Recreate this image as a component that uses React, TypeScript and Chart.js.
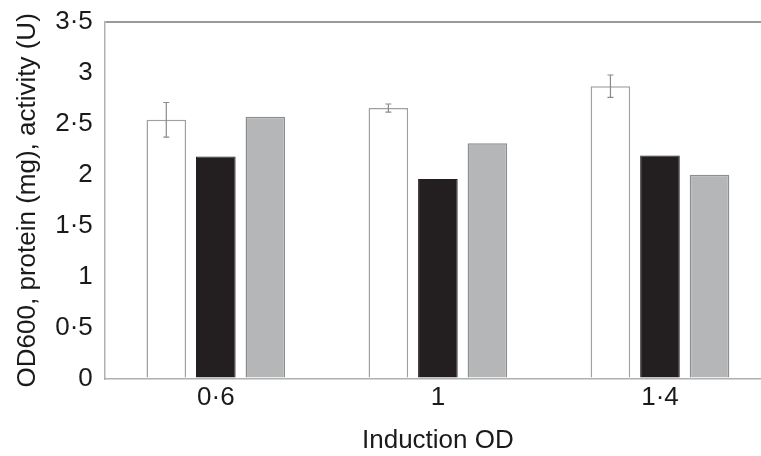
import React, { useEffect, useRef } from "react";
import { Chart, registerables } from "chart.js";

Chart.register(...registerables);

const categories = ["0·6", "1", "1·4"];
const od600 = [2.54, 2.655, 2.87];
const od600Err = [0.17, 0.04, 0.11];
const protein = [2.18, 1.96, 2.19];
const activity = [2.57, 2.31, 2.0];
const yTicks = [0, 0.5, 1, 1.5, 2, 2.5, 3, 3.5];

const FONT = "'Liberation Sans', Arial, sans-serif";

const errorBarPlugin = {
  id: "errorBars",
  afterDatasetsDraw(chart: any) {
    const ctx = chart.ctx;
    const meta = chart.getDatasetMeta(0);
    const y = chart.scales.y;
    ctx.save();
    ctx.strokeStyle = "#8a8a8a";
    ctx.lineWidth = 1.2;
    meta.data.forEach((bar: any, i: number) => {
      const v = od600[i];
      const e = od600Err[i];
      const x = bar.x;
      const yt = y.getPixelForValue(v + e);
      const yb = y.getPixelForValue(v - e);
      ctx.beginPath();
      ctx.moveTo(x, yt);
      ctx.lineTo(x, yb);
      ctx.moveTo(x - 3, yt);
      ctx.lineTo(x + 3, yt);
      ctx.moveTo(x - 3, yb);
      ctx.lineTo(x + 3, yb);
      ctx.stroke();
    });
    ctx.restore();
  },
};

export default function App() {
  const ref = useRef<HTMLCanvasElement | null>(null);
  useEffect(() => {
    document.body.style.margin = "0";
    const chart = new Chart(ref.current as HTMLCanvasElement, {
      type: "bar",
      data: {
        labels: categories,
        datasets: [
          {
            label: "OD600",
            data: od600,
            backgroundColor: "#ffffff",
            borderColor: "#a0a0a0",
            borderWidth: 1.5,
          },
          {
            label: "Protein (mg)",
            data: protein,
            backgroundColor: "#231f20",
            borderColor: "#231f20",
            borderWidth: 1,
          },
          {
            label: "Activity (U)",
            data: activity,
            backgroundColor: "#b5b6b8",
            borderColor: "#8e8e8e",
            borderWidth: 1.5,
          },
        ],
      },
      options: {
        responsive: false,
        animation: false,
        devicePixelRatio: 1,
        layout: { padding: { top: 22, right: 4, left: 0, bottom: 0 } },
        datasets: { bar: { categoryPercentage: 0.669, barPercentage: 0.8 } },
        plugins: { legend: { display: false }, tooltip: { enabled: false } },
        scales: {
          x: {
            grid: { display: false, drawTicks: false },
            border: { display: true, color: "#b0b0b0", width: 1.5 },
            ticks: { color: "#1a1a1a", font: { family: FONT, size: 26 }, padding: 4 },
            title: {
              display: true,
              text: "Induction OD",
              color: "#1a1a1a",
              font: { family: FONT, size: 26 },
              padding: { top: 7, bottom: 0 },
            },
          },
          y: {
            min: 0,
            max: 3.5,
            afterBuildTicks: (scale: any) => {
              scale.ticks = yTicks.map((v) => ({ value: v }));
            },
            afterFit: (scale: any) => {
              scale.paddingTop = 0;
              scale.paddingBottom = 0;
            },
            grid: {
              drawTicks: false,
              lineWidth: 2,
              color: (c: any) => (c.tick && c.tick.value === 3.5 ? "#9a9a9a" : "rgba(0,0,0,0)"),
            },
            border: { display: true, color: "#b0b0b0", width: 1.5 },
            ticks: {
              color: "#1a1a1a",
              font: { family: FONT, size: 26 },
              padding: 12,
              callback: (v: any) => String(v).replace(".", "·"),
            },
            title: {
              display: true,
              text: "OD600, protein (mg), activity (U)",
              color: "#1a1a1a",
              font: { family: FONT, size: 26 },
              padding: { top: 12, bottom: 0 },
            },
          },
        },
      },
      plugins: [errorBarPlugin],
    });
    return () => chart.destroy();
  }, []);
  return (
    <div style={{ width: 761, height: 456, overflow: "hidden", background: "#fff" }}>
      <canvas ref={ref} width={775} height={456} />
    </div>
  );
}
